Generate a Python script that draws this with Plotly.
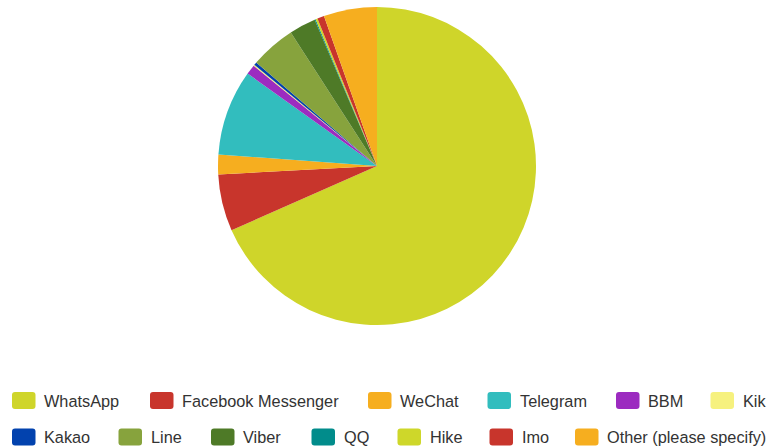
import plotly.graph_objects as go

W, H = 771, 448

labels = ["WhatsApp", "Facebook Messenger", "WeChat", "Telegram", "BBM", "Kik",
          "Kakao", "Line", "Viber", "QQ", "Hike", "Imo", "Other (please specify)"]
values = [68.25, 5.75, 2.0, 8.7, 1.0, 0.1, 0.3, 4.6, 2.7, 0.1, 0.2, 0.7, 5.4]
colors = ["#CFD52A", "#C8352C", "#F6AE1F", "#32BDBE", "#9C2BC0", "#F6F17E",
          "#0242AE", "#87A33D", "#4E7A27", "#018C8B", "#CED72A", "#C8352C", "#F6AE1F"]

# legend layout (pixel positions of swatches, two rows)
legend_rows = [labels[:6], labels[6:]]
legend_x = [[12, 150, 368, 487.5, 616, 710.5],
            [12, 118.5, 211, 311.5, 397.5, 489.5, 575]]
legend_y = [400.5, 437]

cx, cy, r = 377, 166, 159

fig = go.Figure(go.Pie(
    labels=labels, values=values, sort=False, direction="clockwise", rotation=0,
    marker=dict(colors=colors, line=dict(width=0)),
    textinfo="none", hoverinfo="label+percent", showlegend=False,
    domain=dict(x=[(cx - r) / W, (cx + r) / W], y=[1 - (cy + r) / H, 1 - (cy - r) / H]),
))

def px(x):
    return x / W

def py(y):
    return 1 - y / H

def rounded_rect(x0, y0, x1, y1, rad):
    pts = [
        f"M {px(x0 + rad)} {py(y0)}",
        f"L {px(x1 - rad)} {py(y0)}",
        f"Q {px(x1)} {py(y0)} {px(x1)} {py(y0 + rad)}",
        f"L {px(x1)} {py(y1 - rad)}",
        f"Q {px(x1)} {py(y1)} {px(x1 - rad)} {py(y1)}",
        f"L {px(x0 + rad)} {py(y1)}",
        f"Q {px(x0)} {py(y1)} {px(x0)} {py(y1 - rad)}",
        f"L {px(x0)} {py(y0 + rad)}",
        f"Q {px(x0)} {py(y0)} {px(x0 + rad)} {py(y0)}",
        "Z",
    ]
    return " ".join(pts)

shapes, annotations = [], []
idx = 0
for row, (names, xs) in enumerate(zip(legend_rows, legend_x)):
    yc = legend_y[row]
    for name, x in zip(names, xs):
        shapes.append(dict(type="path", xref="paper", yref="paper",
                           path=rounded_rect(x, yc - 8.5, x + 23.5, yc + 8.5, 3),
                           fillcolor=colors[idx], line=dict(width=0)))
        annotations.append(dict(x=px(x + 30), y=py(yc), xref="paper", yref="paper",
                                text=name, showarrow=False, xanchor="left", yanchor="middle",
                                font=dict(family="Liberation Sans, Arial, sans-serif",
                                          size=16.3, color="#333333")))
        idx += 1

fig.update_layout(
    width=W, height=H, autosize=False,
    margin=dict(l=0, r=0, t=0, b=0),
    paper_bgcolor="white", plot_bgcolor="white",
    shapes=shapes, annotations=annotations,
)

fig.write_html("out.html", config={"displayModeBar": False},
               post_script="document.body.style.margin='0';document.body.style.padding='0';document.body.style.overflow='hidden';")
